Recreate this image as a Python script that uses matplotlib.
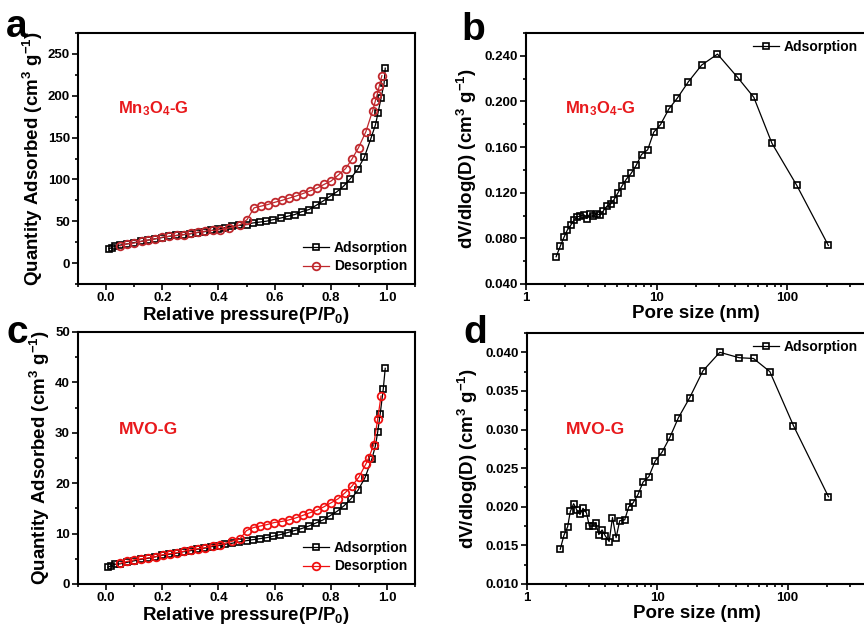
import matplotlib
matplotlib.use("Agg")
import matplotlib.pyplot as plt
from matplotlib.ticker import MultipleLocator, AutoMinorLocator, FixedLocator, FormatStrFormatter

plt.rcParams['font.family'] = ['Liberation Sans', 'DejaVu Sans']
plt.rcParams['font.weight'] = 'bold'
plt.rcParams['axes.labelweight'] = 'bold'
plt.rcParams['mathtext.fontset'] = 'custom'
plt.rcParams['mathtext.rm'] = 'Liberation Sans:bold'
plt.rcParams['mathtext.bf'] = 'Liberation Sans:bold'
plt.rcParams['mathtext.default'] = 'bf'

# --- Mn3O4-G isotherm ---
a_ads_p = [0.010, 0.020, 0.030, 0.050, 0.075, 0.100, 0.125, 0.150, 0.175, 0.200, 0.225,
           0.250, 0.275, 0.300, 0.325, 0.350, 0.375, 0.400, 0.425, 0.450, 0.475, 0.500,
           0.523, 0.547, 0.570, 0.596, 0.624, 0.647, 0.672, 0.697, 0.723, 0.748, 0.772,
           0.796, 0.821, 0.846, 0.870, 0.896, 0.920, 0.943, 0.959, 0.968, 0.979, 0.990, 0.994]
a_ads_q = [17, 18.5, 20, 21.5, 23, 24.5, 26, 27.5, 29, 30.5, 32,
           33, 34, 35, 36.5, 37.5, 39, 40.5, 42.5, 44, 45, 46,
           48, 49, 50, 52, 54, 56, 58, 61.5, 64, 69, 74,
           79.5, 85, 92, 101, 112, 127, 149, 165, 179, 197, 215, 233]
a_des_p = [0.982, 0.973, 0.965, 0.959, 0.949, 0.925, 0.899, 0.875, 0.853, 0.826, 0.801,
           0.776, 0.751, 0.725, 0.700, 0.675, 0.651, 0.627, 0.601, 0.576, 0.551, 0.527,
           0.502, 0.476, 0.438, 0.407, 0.379, 0.351, 0.328, 0.302, 0.276, 0.251, 0.225,
           0.200, 0.175, 0.150, 0.127, 0.100, 0.076, 0.050]
a_des_q = [224, 212, 201, 194, 182, 157, 138, 124, 113, 105, 98,
           94, 89.5, 86, 83, 80, 77.5, 75, 72.7, 70, 68, 66,
           52, 45.5, 42, 40, 39, 38, 37, 35.5, 34, 33, 32,
           31, 29, 27.5, 26, 24, 23, 20.5]

# --- Mn3O4-G pore size distribution ---
b_d = [1.70, 1.83, 1.95, 2.07, 2.20, 2.33, 2.46, 2.61, 2.77, 2.92, 3.08, 3.27, 3.47,
       3.68, 3.90, 4.14, 4.44, 4.72, 5.06, 5.43, 5.87, 6.38, 6.97, 7.66, 8.53, 9.49,
       10.7, 12.4, 14.4, 17.5, 22.1, 29.2, 41.7, 55.4, 76.2, 118, 206]
b_v = [0.0639, 0.0732, 0.0808, 0.0872, 0.0915, 0.0959, 0.0988, 0.0997, 0.1008, 0.0974,
       0.1014, 0.0994, 0.1017, 0.1003, 0.104, 0.108, 0.110, 0.114, 0.120, 0.126,
       0.132, 0.137, 0.144, 0.1535, 0.1576, 0.173, 0.1797, 0.1934, 0.203, 0.2173,
       0.2319, 0.2415, 0.221, 0.2036, 0.1634, 0.1265, 0.0738]

# --- MVO-G isotherm ---
c_ads_p = [0.006, 0.017, 0.030, 0.050, 0.075, 0.100, 0.125, 0.150, 0.175, 0.200, 0.225,
           0.250, 0.275, 0.300, 0.325, 0.350, 0.375, 0.400, 0.425, 0.450, 0.475, 0.500,
           0.523, 0.548, 0.572, 0.596, 0.621, 0.646, 0.671, 0.696, 0.722, 0.747, 0.772,
           0.796, 0.822, 0.847, 0.872, 0.897, 0.922, 0.947, 0.959, 0.967, 0.976, 0.987, 0.994]
c_ads_q = [3.3, 3.6, 3.9, 4.0, 4.3, 4.6, 4.9, 5.1, 5.4, 5.7, 5.9,
           6.1, 6.4, 6.6, 6.9, 7.1, 7.4, 7.6, 7.9, 8.1, 8.35, 8.6,
           8.8, 9.0, 9.2, 9.5, 9.8, 10.2, 10.6, 11.0, 11.5, 12.1, 12.7,
           13.5, 14.4, 15.5, 16.9, 18.6, 21.1, 24.9, 27.4, 30.1, 33.7, 38.7, 42.8]
c_des_p = [0.979, 0.967, 0.953, 0.935, 0.925, 0.900, 0.875, 0.851, 0.826, 0.801, 0.775,
           0.750, 0.724, 0.700, 0.675, 0.650, 0.625, 0.599, 0.574, 0.549, 0.525, 0.500,
           0.476, 0.450, 0.405, 0.379, 0.354, 0.329, 0.303, 0.277, 0.251, 0.227, 0.201,
           0.176, 0.151, 0.125, 0.100, 0.076, 0.050]
c_des_q = [37.3, 32.7, 27.6, 25.0, 23.8, 21.2, 19.4, 18.1, 16.9, 16.1, 15.3,
           14.6, 14.1, 13.6, 13.1, 12.7, 12.4, 12.2, 11.8, 11.5, 11.2, 10.6,
           8.9, 8.5, 7.8, 7.6, 7.2, 7.0, 6.8, 6.5, 6.2, 6.0, 5.8,
           5.4, 5.2, 5.0, 4.8, 4.5, 4.1]

# --- MVO-G pore size distribution ---
d_d = [1.80, 1.92, 2.05, 2.15, 2.28, 2.41, 2.55, 2.69, 2.86, 3.01, 3.19, 3.37, 3.56,
       3.77, 4.00, 4.27, 4.53, 4.83, 5.15, 5.62, 6.04, 6.52, 7.12, 7.78, 8.61, 9.62,
       10.9, 12.5, 14.5, 17.7, 22.4, 30.2, 42.5, 54.8, 73.1, 111, 206]
d_v = [0.0145, 0.0163, 0.0174, 0.0194, 0.0204, 0.0196, 0.0190, 0.0198, 0.0192, 0.0175,
       0.0175, 0.0179, 0.0164, 0.0170, 0.0162, 0.0155, 0.0186, 0.0160, 0.0182, 0.0183,
       0.0200, 0.0205, 0.0216, 0.0232, 0.0239, 0.0259, 0.0271, 0.0290, 0.0315, 0.0341,
       0.0376, 0.0400, 0.0393, 0.0392, 0.0375, 0.0305, 0.0213]

W, H = 864, 628
fig = plt.figure(figsize=(W / 100, H / 100), dpi=100)


def px_axes(x0, y0, x1, y1):
    # axes from pixel box (left, top, right, bottom)
    return fig.add_axes([x0 / W, 1 - y1 / H, (x1 - x0) / W, (y1 - y0) / H])


def style(ax):
    for s in ax.spines.values():
        s.set_linewidth(1.5)
    ax.tick_params(which='both', direction='out', top=False, right=False,
                   labelsize=9.5, width=1.2, pad=1.8)
    ax.tick_params(which='major', length=4)
    ax.tick_params(which='minor', length=2.5)


sq = dict(marker='s', ms=5, mfc='none', mew=1.2, lw=0.9)
ci = dict(marker='o', ms=5.5, mfc='none', mew=1.3, lw=0.9)
ylab_iso = r'Quantity Adsorbed (cm$^{3}$ g$^{-1}$)'
ylab_psd = r'dV/dlog(D) (cm$^{3}$ g$^{-1}$)'
red_txt = '#e8191c'
lab_fs = 13.5


def isotherm(ax, ap, aq, dp, dq, dcol, ylim, major, name, fs):
    ax.plot(ap, aq, color='black', mec='black', label='Adsorption', **sq)
    ax.plot(dp, dq, color=dcol, mec=dcol, label='Desorption', **ci)
    ax.set_xlim(-0.1, 1.1)
    ax.set_ylim(*ylim)
    ax.xaxis.set_major_locator(FixedLocator([0.0, 0.2, 0.4, 0.6, 0.8, 1.0]))
    ax.xaxis.set_major_formatter(FormatStrFormatter('%.1f'))
    ax.xaxis.set_minor_locator(MultipleLocator(0.1))
    ax.yaxis.set_major_locator(MultipleLocator(major))
    ax.yaxis.set_minor_locator(AutoMinorLocator(2))
    ax.set_xlabel(r'Relative pressure(P/P$_{0}$)', fontsize=lab_fs, labelpad=1)
    ax.set_ylabel(ylab_iso, fontsize=lab_fs, labelpad=2)
    ax.text(0.12, 0.70 if fs < 12.5 else 0.615, name, color=red_txt, fontsize=fs,
            va='center', transform=ax.transAxes)
    ax.legend(loc='lower right', frameon=False, fontsize=10, handlelength=1.9,
              handletextpad=0.3, labelspacing=0.3, borderaxespad=0.0,
              bbox_to_anchor=(0.995, 0.02))
    style(ax)


def psd(ax, d, v, ylim, major, fmt, name, ty, fs):
    ax.plot(d, v, color='black', mec='black', label='Adsorption', **sq)
    ax.set_xscale('log')
    ax.set_xlim(1, 400)
    ax.set_ylim(*ylim)
    ax.xaxis.set_major_locator(FixedLocator([1, 10, 100]))
    ax.xaxis.set_major_formatter(FormatStrFormatter('%d'))
    ax.yaxis.set_major_locator(MultipleLocator(major))
    ax.yaxis.set_minor_locator(AutoMinorLocator(2))
    ax.yaxis.set_major_formatter(FormatStrFormatter(fmt))
    ax.set_xlabel('Pore size (nm)', fontsize=lab_fs, labelpad=1)
    ax.set_ylabel(ylab_psd, fontsize=lab_fs, labelpad=4)
    ax.text(0.115, ty, name, color=red_txt, fontsize=fs, va='center',
            transform=ax.transAxes)
    ax.legend(loc='upper right', frameon=False, fontsize=10, handlelength=1.9,
              handletextpad=0.3, borderaxespad=0.1, bbox_to_anchor=(0.995, 1.0))
    style(ax)


ax_a = px_axes(78, 33, 415, 284)
ax_b = px_axes(526, 33, 866, 284)
ax_c = px_axes(78, 332, 415, 584)
ax_d = px_axes(527, 333, 866, 584)

isotherm(ax_a, a_ads_p, a_ads_q, a_des_p, a_des_q, '#c0282d', (-25, 275), 50,
         r'Mn$_{3}$O$_{4}$-G', 12)
isotherm(ax_c, c_ads_p, c_ads_q, c_des_p, c_des_q, '#f01010', (0, 50), 10, 'MVO-G', 12.6)
psd(ax_b, b_d, b_v, (0.04, 0.26), 0.04, '%.3f', r'Mn$_{3}$O$_{4}$-G', 0.70, 12)
psd(ax_d, d_d, d_v, (0.010, 0.0425), 0.005, '%.3f', 'MVO-G', 0.614, 12.6)

for lab, x, y in [('a', 6, 37), ('b', 461, 40), ('c', 6, 343), ('d', 463, 343)]:
    fig.text(x / W, 1 - y / H, lab, fontsize=28, fontweight='bold')

fig.savefig('out.png', dpi=100)
